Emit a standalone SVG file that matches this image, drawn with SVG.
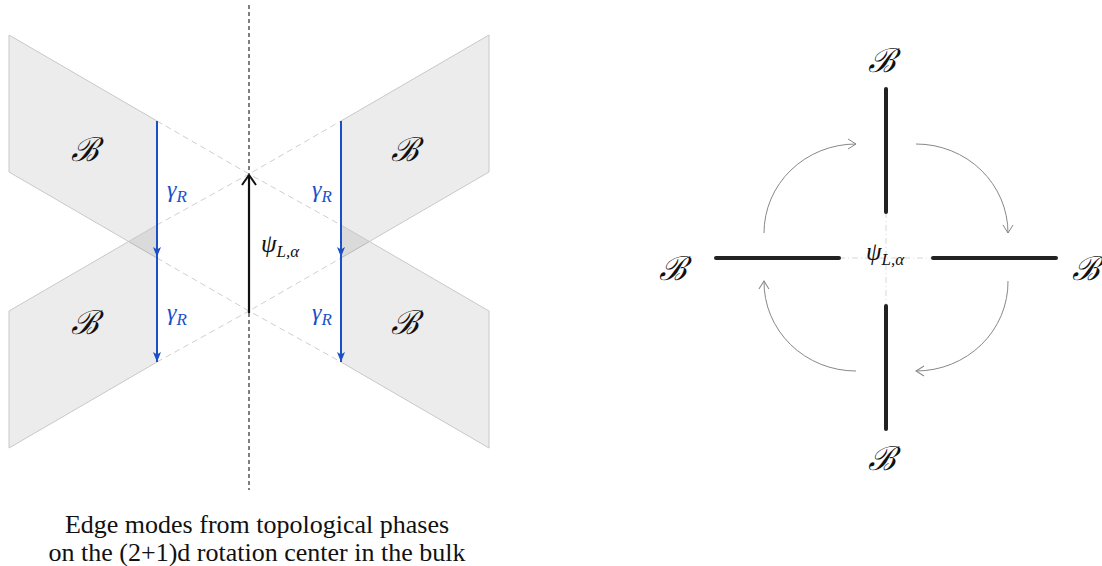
<svg xmlns="http://www.w3.org/2000/svg" width="1102" height="566" viewBox="0 0 1102 566">
<style>
.plane{fill:#000;fill-opacity:0.075;stroke:#c8c8c8;stroke-width:1}
.guide{stroke:#cfcfcf;stroke-width:1;stroke-dasharray:6,4;fill:none}
.axis{stroke:#555;stroke-width:1.5;stroke-dasharray:4,3;fill:none}
.blue{stroke:#1a4fc8;stroke-width:2;fill:none}
.bar{stroke:#222;stroke-width:4;stroke-linecap:round}
.arc{stroke:#888;stroke-width:1;fill:none}
.cross{stroke:#d8d8d8;stroke-width:1;stroke-dasharray:6,3,1,3}
.scr{font-family:"DejaVu Serif","Liberation Serif",serif;font-style:italic;font-size:33px;fill:#111}
.math{font-family:"Liberation Serif",serif;font-style:italic;fill:#111}
.bl{fill:#1a4fc8}
.cap{font-family:"Liberation Serif",serif;font-size:26px;fill:#111}
</style>
<defs>
<marker id="bh" viewBox="0 0 10 8" refX="10" refY="4" markerWidth="10" markerHeight="8" markerUnits="userSpaceOnUse" orient="auto">
<path d="M0,0 L10,4 L0,8 L2.5,4 Z" fill="#1a4fc8"/>
</marker>
<marker id="kh" viewBox="0 0 12 16" refX="11" refY="8" markerWidth="12" markerHeight="16" markerUnits="userSpaceOnUse" orient="auto">
<path d="M1,1 L11,8 L1,15" fill="none" stroke="#111" stroke-width="2"/>
</marker>
<marker id="gh" viewBox="0 0 10 12" refX="9" refY="6" markerWidth="10" markerHeight="12" markerUnits="userSpaceOnUse" orient="auto">
<path d="M1,1 L9,6 L1,11" fill="none" stroke="#888" stroke-width="1"/>
</marker>
</defs>

<g id="planes">
<polygon id="plane-tl" class="plane" points="9,35 157,121 157,258 9,172"/>
<polygon id="plane-bl" class="plane" points="9,311 157,225 157,362 9,448"/>
<polygon id="plane-tr" class="plane" points="489,35 341,121 341,258 489,172"/>
<polygon id="plane-br" class="plane" points="489,311 341,225 341,362 489,448"/>
</g>

<g id="connectors">
<path class="guide" d="M157,121 L249,174 L341,121 M157,225 L249,174 L341,225 M157,258 L249,311 L341,258 M157,362 L249,311 L341,362"/>
<path class="axis" d="M249,5 V174 M249,313 V490"/>
<path class="blue" d="M157,121 V257" marker-end="url(#bh)"/>
<path class="blue" d="M157,257 V362" marker-end="url(#bh)"/>
<path class="blue" d="M341,121 V257" marker-end="url(#bh)"/>
<path class="blue" d="M341,257 V362" marker-end="url(#bh)"/>
<path d="M249,313 V175" stroke="#111" stroke-width="2.2" fill="none" marker-end="url(#kh)"/>

<path class="cross" d="M886,212 V306 M839,258 H933"/>
<path class="arc" d="M764,233 A92,89 0 0 1 856,144" marker-end="url(#gh)"/>
<path class="arc" d="M916,144 A92,89 0 0 1 1008,233" marker-end="url(#gh)"/>
<path class="arc" d="M1008,281 A92,89 0 0 1 916,371" marker-end="url(#gh)"/>
<path class="arc" d="M856,371 A92,89 0 0 1 764,281" marker-end="url(#gh)"/>
</g>

<g id="bars">
<line id="bar-top" class="bar" x1="886" y1="89" x2="886" y2="212"/>
<line id="bar-bottom" class="bar" x1="886" y1="306" x2="886" y2="429"/>
<line id="bar-left" class="bar" x1="716" y1="258" x2="839" y2="258"/>
<line id="bar-right" class="bar" x1="933" y1="258" x2="1056" y2="258"/>
</g>

<g id="labels">
<text class="scr" x="85" y="161" text-anchor="middle">ℬ</text>
<text class="scr" x="405" y="161" text-anchor="middle">ℬ</text>
<text class="scr" x="85" y="334" text-anchor="middle">ℬ</text>
<text class="scr" x="405" y="334" text-anchor="middle">ℬ</text>
<text class="math bl" x="167" y="197" font-size="24">γ<tspan font-size="17" dy="5">R</tspan></text>
<text class="math bl" x="312" y="197" font-size="24">γ<tspan font-size="17" dy="5">R</tspan></text>
<text class="math bl" x="167" y="320" font-size="24">γ<tspan font-size="17" dy="5">R</tspan></text>
<text class="math bl" x="312" y="320" font-size="24">γ<tspan font-size="17" dy="5">R</tspan></text>
<text class="math" x="261" y="252" font-size="25">ψ<tspan font-size="17" dy="5">L,α</tspan></text>

<text class="scr" x="882" y="72" text-anchor="middle">ℬ</text>
<text class="scr" x="882" y="470" text-anchor="middle">ℬ</text>
<text class="scr" x="673" y="280" text-anchor="middle">ℬ</text>
<text class="scr" x="1086" y="280" text-anchor="middle">ℬ</text>
<text class="math" x="866" y="260" font-size="25">ψ<tspan font-size="17" dy="5">L,α</tspan></text>

<text class="cap" x="257" y="533" text-anchor="middle">Edge modes from topological phases</text>
<text class="cap" x="257" y="561" text-anchor="middle">on the (2+1)d rotation center in the bulk</text>
</g>
</svg>
